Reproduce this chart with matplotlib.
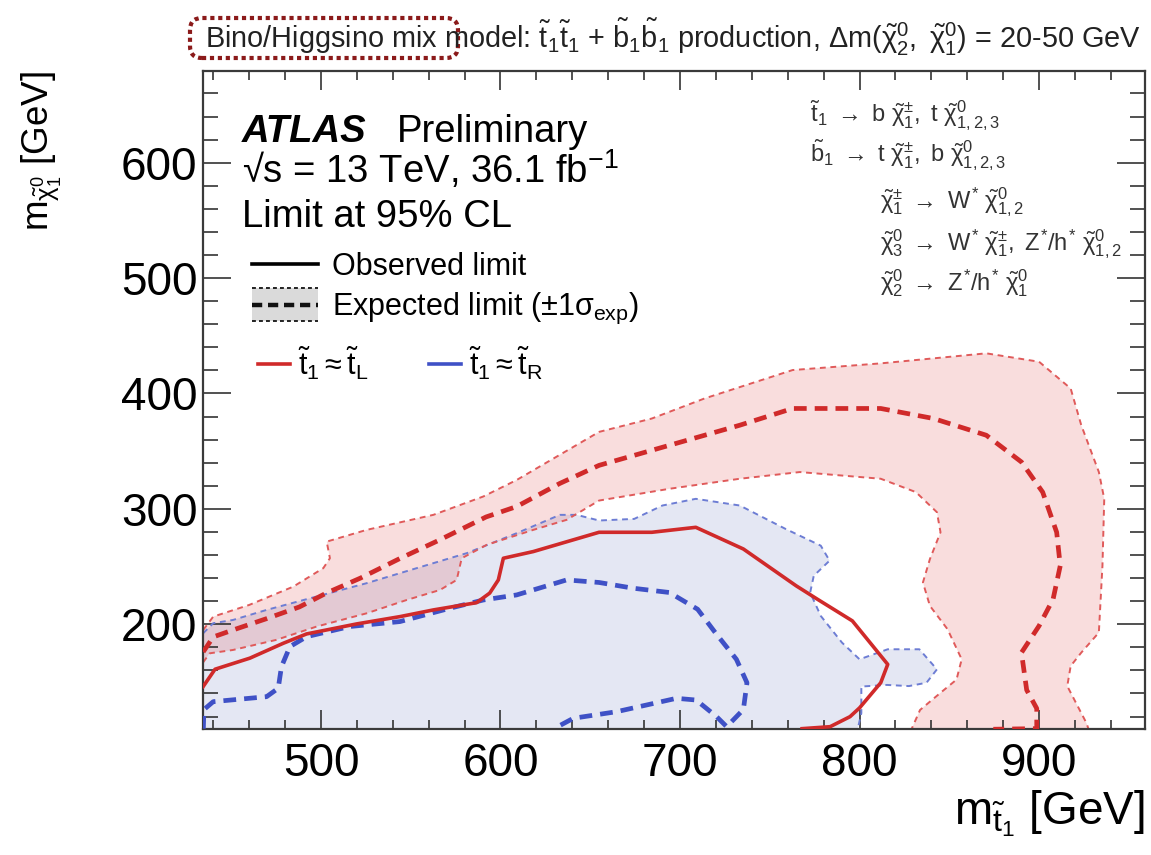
import numpy as np
import matplotlib
matplotlib.use('Agg')
import matplotlib.pyplot as plt
from matplotlib.patches import Rectangle, FancyBboxPatch
from matplotlib.lines import Line2D
from matplotlib.legend_handler import HandlerBase
from matplotlib.transforms import IdentityTransform
from matplotlib.ticker import MultipleLocator

plt.rcParams['font.family'] = ['Liberation Sans', 'DejaVu Sans']
plt.rcParams['mathtext.fontset'] = 'custom'
plt.rcParams['mathtext.rm'] = 'Liberation Sans'
plt.rcParams['mathtext.it'] = 'Liberation Sans'
plt.rcParams['mathtext.bf'] = 'Liberation Sans:bold'
plt.rcParams['mathtext.sf'] = 'Liberation Sans'

# ---------------- data ----------------
X_MIN, X_MAX = 434.3, 959.0
Y_MIN, Y_MAX = 109.2, 679.5

# t1 ~ tL observed limit (solid red)
obs_tL_x = [434.4, 441, 460.4, 479, 492, 520, 544, 562.6, 586.7, 594, 598.8, 601.6, 618.3,
            654.9, 684.3, 708.8, 735.3, 764.7, 776.5, 796, 815.7, 811.8, 800, 794.7, 783.6, 768]
obs_tL_y = [146, 161, 170.6, 183.5, 191.6, 200.3, 206.6, 212.4, 218.7, 227, 238.4, 257.2, 263,
            279.7, 279.7, 284, 265.2, 233.3, 221.7, 202.9, 165.2, 149.3, 127.5, 119.9, 111.2, 109.5]

# t1 ~ tL expected limit (dashed red)
exp_tL_x = [434.4, 436.4, 440, 451, 470, 488, 503, 522, 544, 566, 592, 609, 633, 654.9, 694.1,
            733.3, 762.7, 811.8, 841.2, 870.6, 890.2, 902, 909.8, 911.8, 907.8, 900, 890.2,
            893.1, 898.7, 898.7, 874.5]
exp_tL_y = [176, 180.6, 189, 195, 205, 215, 227, 240, 257, 273, 293, 302, 322, 337.7, 355.1,
            372.5, 387, 387, 378.3, 363.8, 340.6, 314.5, 279.7, 250.7, 221.7, 198.6, 175.4,
            143, 127, 109.5, 109.0]

# t1 ~ tL expected +-1 sigma band edges (dotted red)
exp_tL_up_x = [434.4, 440, 460, 484.6, 501.3, 505, 503.2, 525.5, 562.6, 590.4, 609, 654.9, 684.3,
               713.7, 762.7, 811.8, 870.6, 900, 917.6, 923.5, 933.3, 936.3, 935.3, 933.3, 923.5,
               917.6, 915.7, 926.5, 927.5]
exp_tL_up_y = [195, 206.6, 216.7, 232.6, 248.6, 257.2, 271.6, 281.8, 294.8, 310.7, 325, 366.7, 378.3,
               395.7, 420.3, 426.1, 434.8, 427.5, 404.3, 372.5, 331.9, 308.7, 250.7, 192.8, 175.4,
               163.8, 146.4, 114, 109.2]
exp_tL_dn_x = [434.4, 438, 451, 475, 497.6, 525.5, 547.7, 566.3, 575.6, 578.4, 592.3, 618.3, 636.9,
               654.9, 694.1, 733.3, 766.7, 811.8, 831.4, 843.1, 845.1, 839.2, 835.3, 839.2, 849,
               856.9, 854, 844.8, 833.7, 829]
exp_tL_dn_y = [167, 174.8, 177.7, 186.4, 198, 209.5, 221, 229.7, 238.4, 257.2, 268.8, 281.8, 290.5,
               307.2, 317.4, 326.1, 331.9, 326.1, 314.5, 297.1, 279.7, 256.5, 236.2, 215.9, 195.7,
               169.6, 152, 140.2, 125.7, 109.2]

# t1 ~ tR expected limit (dashed blue)
exp_tR_x = [434.5, 434.8, 440, 469.7, 476.2, 478, 482.7, 492, 516, 544, 571.9, 590.4, 609, 636.8,
            654.9, 674, 694.1, 709.8, 719.6, 731.4, 737.3, 735.3, 726, 720.3, 709, 698, 664.7,
            640.6, 631]
exp_tR_y = [109.5, 126, 132.9, 137.2, 144.5, 163.2, 180.6, 189.2, 198, 202.3, 213.9, 221, 225.4, 238.4,
            236.2, 231.2, 227.5, 213, 192.8, 169.6, 149.3, 126.1, 111.2, 120, 134.3, 135.8, 124.2,
            118.5, 110.5]

# t1 ~ tR expected +1 sigma band edge (dotted blue)
exp_tR_up_x = [434.4, 440, 451, 469.7, 493.9, 525.5, 553.3, 581.2, 609, 633.1, 642.4, 654.9, 674.5,
               690.2, 708.8, 733.3, 758.8, 778.4, 783.3, 774.5, 772.5, 778.4, 790.2, 800, 815.7,
               833.3, 843.1, 837.3, 827.5, 815.2, 801, 801, 799]
exp_tR_up_y = [192.2, 200.9, 203.7, 212.4, 222.5, 235.6, 248.6, 261.6, 278.9, 294.8, 294.8, 289.9,
               291.3, 302.9, 308.7, 302.9, 282.6, 268.1, 255.1, 242, 227.5, 207.2, 184.1, 169.6,
               178.3, 178.3, 160.9, 149.3, 146.4, 147.4, 146, 123, 109.2]

x_major = [500, 600, 700, 800, 900]
y_major = [200, 300, 400, 500, 600]

RED = '#d02a2a'
RED_LIGHT = '#e05a5a'
BLUE = '#3f51c6'
BLUE_LIGHT = '#6d7dd4'

# ---------------- figure ----------------
fig = plt.figure(figsize=(11.51, 8.55), dpi=100)
ax = fig.add_axes([203/1151, (855-729)/855, (1145-203)/1151, (729-71)/855])
ax.set_xlim(X_MIN, X_MAX)
ax.set_ylim(Y_MIN, Y_MAX)

# bands
ax.fill(exp_tR_up_x + [exp_tR_up_x[0]], exp_tR_up_y + [Y_MIN],
        color=(120/255, 135/255, 195/255), alpha=0.2, lw=0, zorder=1)
ax.fill(exp_tL_up_x + exp_tL_dn_x[::-1], exp_tL_up_y + exp_tL_dn_y[::-1],
        color=(225/255, 85/255, 85/255), alpha=0.2, lw=0, zorder=1)

dot = (0, (3.0, 2.4))
ax.plot(exp_tR_up_x, exp_tR_up_y, color=BLUE_LIGHT, lw=1.4, ls=dot, zorder=2)
ax.plot(exp_tL_up_x, exp_tL_up_y, color=RED_LIGHT, lw=1.4, ls=dot, zorder=2)
ax.plot(exp_tL_dn_x, exp_tL_dn_y, color=RED_LIGHT, lw=1.4, ls=dot, zorder=2)
dash = (0, (2.7, 1.7))
ax.plot(exp_tR_x, exp_tR_y, color=BLUE, lw=3.4, ls=dash, zorder=3)
ax.plot(exp_tL_x, exp_tL_y, color=RED, lw=3.4, ls=dash, zorder=3)
ax.plot(obs_tL_x, obs_tL_y, color=RED, lw=2.6, ls='-', zorder=4)

# axes styling
ax.set_xticks(x_major)
ax.set_yticks(y_major)
ax.xaxis.set_minor_locator(MultipleLocator(20))
ax.yaxis.set_minor_locator(MultipleLocator(20))
ax.tick_params(which='both', direction='in', top=True, right=True, color='#333333', width=1.2)
ax.tick_params(axis='x', which='major', length=13.5, labelsize=33, pad=9.5)
ax.tick_params(axis='x', which='minor', length=6.5)
ax.tick_params(axis='y', which='major', length=20, labelsize=33, pad=4)
ax.tick_params(axis='y', which='minor', length=11)
for s in ax.spines.values():
    s.set_linewidth(1.6)
    s.set_color('#3a3a3a')

ax.set_xlabel(r'$m_{\tilde{t}_{1}}$ [GeV]', fontsize=33, loc='right')
ax.xaxis.set_label_coords(1.0, -0.09)
ax.set_ylabel(r'$m_{\tilde{\chi}^{0}_{1}}$ [GeV]', fontsize=26.5, loc='top')
ax.yaxis.set_label_coords(-0.149, 1.0)

# ATLAS texts
ax.text(0.0411, 0.892, 'ATLAS', fontsize=27.5, fontweight='bold', fontstyle='italic',
        transform=ax.transAxes, va='baseline')
ax.text(0.2056, 0.892, 'Preliminary', fontsize=27.5, transform=ax.transAxes, va='baseline')
ax.text(0.0411, 0.8298, '√s = 13 TeV, 36.1 fb$^{-1}$', fontsize=27.5,
        transform=ax.transAxes, va='baseline')
ax.text(0.0411, 0.763, 'Limit at 95% CL', fontsize=27.5, transform=ax.transAxes, va='baseline')

# decay chain texts
decays = [
    (0.6444, 0.921, r'$\tilde{t}_{1}\ \rightarrow\ b\ \tilde{\chi}^{\pm}_{1},\ t\ \tilde{\chi}^{0}_{1,2,3}$'),
    (0.6444, 0.8617, r'$\tilde{b}_{1}\ \rightarrow\ t\ \tilde{\chi}^{\pm}_{1},\ b\ \tilde{\chi}^{0}_{1,2,3}$'),
    (0.7187, 0.7918, r'$\tilde{\chi}^{\pm}_{1}\ \rightarrow\ W^{*}\ \tilde{\chi}^{0}_{1,2}$'),
    (0.7187, 0.7280, r'$\tilde{\chi}^{0}_{3}\ \rightarrow\ W^{*}\ \tilde{\chi}^{\pm}_{1},\ Z^{*}/h^{*}\ \tilde{\chi}^{0}_{1,2}$'),
    (0.7187, 0.6672, r'$\tilde{\chi}^{0}_{2}\ \rightarrow\ Z^{*}/h^{*}\ \tilde{\chi}^{0}_{1}$'),
]
for x, y, s in decays:
    ax.text(x, y, s, fontsize=17, color='#333333', transform=ax.transAxes, va='baseline')


# legend
class ExpectedHandler(HandlerBase):
    def create_artists(self, legend, orig_handle, xdescent, ydescent, width, height,
                       fontsize, trans):
        h = height * 1.5
        y0 = -ydescent + height / 2 - h / 2
        x0 = -xdescent
        rect = Rectangle((x0, y0), width, h, facecolor='#dadada', edgecolor='none',
                         transform=trans)
        top = Line2D([x0, x0 + width], [y0 + h, y0 + h], color='#222222', lw=1.4,
                     ls=(0, (2.0, 1.6)), transform=trans)
        bot = Line2D([x0, x0 + width], [y0, y0], color='#222222', lw=1.4,
                     ls=(0, (2.0, 1.6)), transform=trans)
        mid = Line2D([x0, x0 + width], [y0 + h / 2, y0 + h / 2], color='#111111', lw=3.2,
                     ls=(0, (2.3, 1.3)), transform=trans)
        return [rect, top, bot, mid]


class ExpectedKey:
    pass


obs_handle = Line2D([], [], color='black', lw=2.6)
leg1 = ax.legend([obs_handle, ExpectedKey()],
                 ['Observed limit', r'Expected limit ($\pm1\sigma_{\mathrm{exp}}$)'],
                 handler_map={ExpectedKey: ExpectedHandler()},
                 loc='upper left', bbox_to_anchor=(0.052, 0.725), frameon=False,
                 fontsize=22, handlelength=2.16, handletextpad=0.46, labelspacing=0.3,
                 borderpad=0, borderaxespad=0)
ax.add_artist(leg1)
red_h = Line2D([], [], color=RED, lw=2.6)
blue_h = Line2D([], [], color=BLUE, lw=2.6)
leg2 = ax.legend([red_h, blue_h],
                 [r'$\tilde{t}_{1}\approx\tilde{t}_{L}$', r'$\tilde{t}_{1}\approx\tilde{t}_{R}$'],
                 ncol=2, loc='upper left', bbox_to_anchor=(0.0584, 0.585), frameon=False,
                 fontsize=22, handlelength=1.05, handletextpad=0.25, columnspacing=2.0,
                 borderpad=0, borderaxespad=0)

# title with highlighted part
fig.text(205/1151, (855-48)/855,
         r'Bino/Higgsino mix model: $\tilde{t}_{1}\tilde{t}_{1}$ + $\tilde{b}_{1}\tilde{b}_{1}$ production, '
         r'$\Delta m(\tilde{\chi}^{0}_{2},\ \tilde{\chi}^{0}_{1})$ = 20-50 GeV',
         fontsize=20.8, va='baseline', color='#222222')
box = FancyBboxPatch((190, 855 - 58), 268, 40, boxstyle='round,pad=0,rounding_size=12',
                     transform=IdentityTransform(), fill=False, edgecolor='#8b1a1a', lw=3,
                     ls=(0, (1.0, 0.9)))
fig.patches.append(box)

fig.savefig('out.png', dpi=100)
